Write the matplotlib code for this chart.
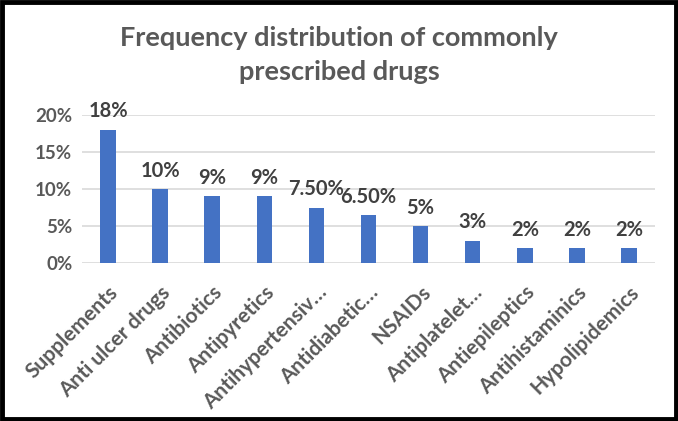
import matplotlib
matplotlib.use("Agg")
import matplotlib.pyplot as plt
from matplotlib.patches import Rectangle

categories = ["Supplements", "Anti ulcer drugs", "Antibiotics", "Antipyretics",
              "Antihypertensiv\u2026", "Antidiabetic\u2026", "NSAIDs", "Antiplatelet\u2026",
              "Antiepileptics", "Antihistaminics", "Hypolipidemics"]
values = [18, 10, 9, 9, 7.5, 6.5, 5, 3, 2, 2, 2]
value_labels = ["18%", "10%", "9%", "9%", "7.50%", "6.50%", "5%", "3%", "2%", "2%", "2%"]
yticks = [0, 5, 10, 15, 20]
ytick_labels = ["0%", "5%", "10%", "15%", "20%"]

plt.rcParams['font.family'] = ['Lato', 'DejaVu Sans']

W, H = 678, 421
fig = plt.figure(figsize=(W/100, H/100), dpi=100)
ax = fig.add_axes([82/W, 1-263/H, (655-82)/W, (263-115)/H])

x = range(len(categories))
ax.bar(x, values, width=0.3, color="#4472C4", zorder=3)
ax.set_xlim(-0.5, len(categories)-0.5)
ax.set_ylim(0, 20)
ax.set_yticks(yticks)
ax.set_yticklabels(ytick_labels, fontsize=13.5, fontweight='bold', color="#595959")
ax.set_xticks(list(x))
ax.set_xticklabels(categories, rotation=45, ha='right', rotation_mode='anchor',
                   fontsize=15, fontweight='bold', color="#595959")
ax.tick_params(axis='y', length=0, pad=7)
ax.tick_params(axis='x', length=0, pad=14)
ax.grid(axis='y', color="#D9D9D9", linewidth=1.2, zorder=0)
for s in ax.spines.values():
    s.set_visible(False)

for xi, v, lab in zip(x, values, value_labels):
    ax.annotate(lab, (xi, v), xytext=(0, 6), textcoords='offset points',
                ha='center', va='bottom', fontsize=14.5, fontweight='bold', color="#404040")

fig.text(0.5, 1-38/H, "Frequency distribution of commonly", ha='center', va='center',
         fontsize=19.5, fontweight='bold', color="#595959")
fig.text(0.5, 1-72/H, "prescribed drugs", ha='center', va='center',
         fontsize=19.5, fontweight='bold', color="#595959")

fig.patches.append(Rectangle((2/W, 2/H), 1-4/W, 1-4/H, transform=fig.transFigure,
                             fill=False, edgecolor='black', linewidth=3.5))

fig.savefig("out.png", dpi=100)
